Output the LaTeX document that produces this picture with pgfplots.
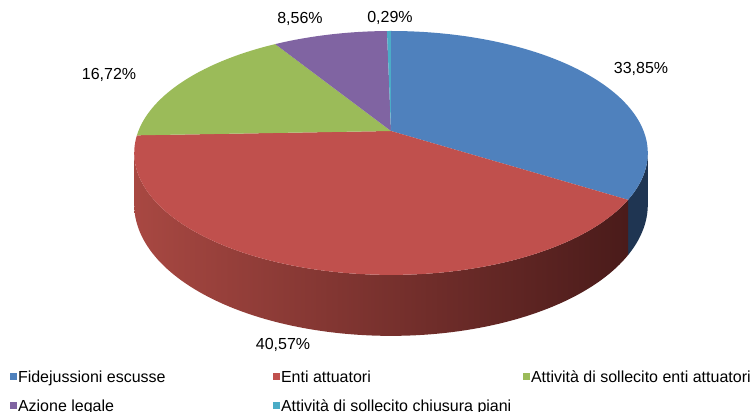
\documentclass[border=0pt]{standalone}
\usepackage{fontspec}
\setmainfont{Liberation Sans}
\usepackage{pgfplots}
\pgfplotsset{compat=1.18}
\definecolor{cBlue}{HTML}{4F81BD}
\definecolor{cRed}{HTML}{C0504D}
\definecolor{cGreen}{HTML}{9BBB59}
\definecolor{cPurple}{HTML}{8064A2}
\definecolor{cTeal}{HTML}{4BACC6}
\definecolor{sideBlue}{HTML}{1F3552}
\definecolor{sideRedL}{HTML}{A84842}
\definecolor{sideRedR}{HTML}{4A1B1A}
\begin{document}
\fontsize{16}{19}\selectfont
\begin{tikzpicture}
% data (percent)
\def\pA{33.85}\def\pB{40.57}\def\pC{16.72}\def\pD{8.56}\def\pE{0.29}
\pgfmathsetmacro\tA{90}
\pgfmathsetmacro\tB{\tA-3.6*\pA}
\pgfmathsetmacro\tC{\tB-3.6*\pB}
\pgfmathsetmacro\tD{\tC-3.6*\pC}
\pgfmathsetmacro\tE{\tD-3.6*\pD}
\pgfmathsetmacro\tF{\tE-3.6*\pE}
\begin{axis}[
  scale only axis, width=752pt, height=412pt,
  xmin=0, xmax=752, ymin=0, ymax=412,
  axis line style={draw=none}, ticks=none, clip=false,
  declare function={
    ppx(\r,\t)=391+\r*252.6*cos(\t)/(1+0.18*\r*sin(\t));
    ppy(\r,\t)=281+\r*118*sin(\t)/(1+0.18*\r*sin(\t));
    rr(\s)=ifthenelse(\s<0,0,1);
    sl(\s,\a,\b)=\a+(\b-\a)*max(\s,0);
    st(\s,\a,\b)=ifthenelse(\s<1.5,\a+(\b-\a)*\s,\b-(\b-\a)*(\s-2));
    sd(\s,\t)=ifthenelse(\s<1.5,0,1)*50/(1+0.18*sin(\t));
  },
  legend columns=3,
  legend cell align=left,
  legend image code/.code={\fill[#1] (0pt,-3.5pt) rectangle (7pt,3.5pt);},
  legend style={draw=none, fill=none, overlay,
    at={(axis description cs:0.0133,0.0989)}, anchor=north west,
    inner sep=0pt, outer sep=0pt,
    nodes={inner sep=0pt, text height=11.5pt, text depth=0pt},
    row sep=17.5pt,
    /tikz/every odd column/.style={column sep=1pt},
    /tikz/every even column/.style={column sep=0pt}},
]
% sides
\addplot[forget plot, draw=none, fill=sideBlue, samples at={0,0.02,...,0.98,1,2,2.02,...,2.98,3}]
  ({ppx(1,st(x,\tB,-10.37))},{ppy(1,st(x,\tB,-10.37))-sd(x,st(x,\tB,-10.37))});
\addplot[forget plot, draw=none, left color=sideRedL, right color=sideRedR, samples at={0,0.01,...,0.99,1,2,2.01,...,2.99,3}]
  ({ppx(1,st(x,-169.63,\tB))},{ppy(1,st(x,-169.63,\tB))-sd(x,st(x,-169.63,\tB))});
% top slices
\addplot[draw=none, fill=cBlue, samples at={-1,0,0.01,...,0.99,1}]
  ({ppx(rr(x),sl(x,\tA,\tB))},{ppy(rr(x),sl(x,\tA,\tB))});
\addlegendentry{\makebox[255pt][l]{Fidejussioni escusse}}
\addplot[draw=none, fill=cRed, samples at={-1,0,0.01,...,0.99,1}]
  ({ppx(rr(x),sl(x,\tB,\tC))},{ppy(rr(x),sl(x,\tB,\tC))});
\addlegendentry{\makebox[242pt][l]{Enti attuatori}}
\addplot[draw=none, fill=cGreen, samples at={-1,0,0.01,...,0.99,1}]
  ({ppx(rr(x),sl(x,\tC,\tD))},{ppy(rr(x),sl(x,\tC,\tD))});
\addlegendentry{Attività di sollecito enti attuatori}
\addplot[draw=none, fill=cPurple, samples at={-1,0,0.02,...,0.98,1}]
  ({ppx(rr(x),sl(x,\tD,\tE))},{ppy(rr(x),sl(x,\tD,\tE))});
\addlegendentry{Azione legale}
\addplot[draw=none, fill=cTeal, samples at={-1,0,0.1,...,0.9,1}]
  ({ppx(rr(x),sl(x,\tE,\tF))},{ppy(rr(x),sl(x,\tE,\tF))});
\addlegendentry{Attività di sollecito chiusura piani}
% labels
\addplot[forget plot, draw=none, mark=none, nodes near coords, point meta=explicit symbolic,
  nodes near coords align={center}]
  coordinates {(641,343) [33,85\%] (283,67) [40,57\%] (109,337) [16,72\%] (300,393) [8,56\%] (390,394) [0,29\%]};
\end{axis}
\end{tikzpicture}
\end{document}
